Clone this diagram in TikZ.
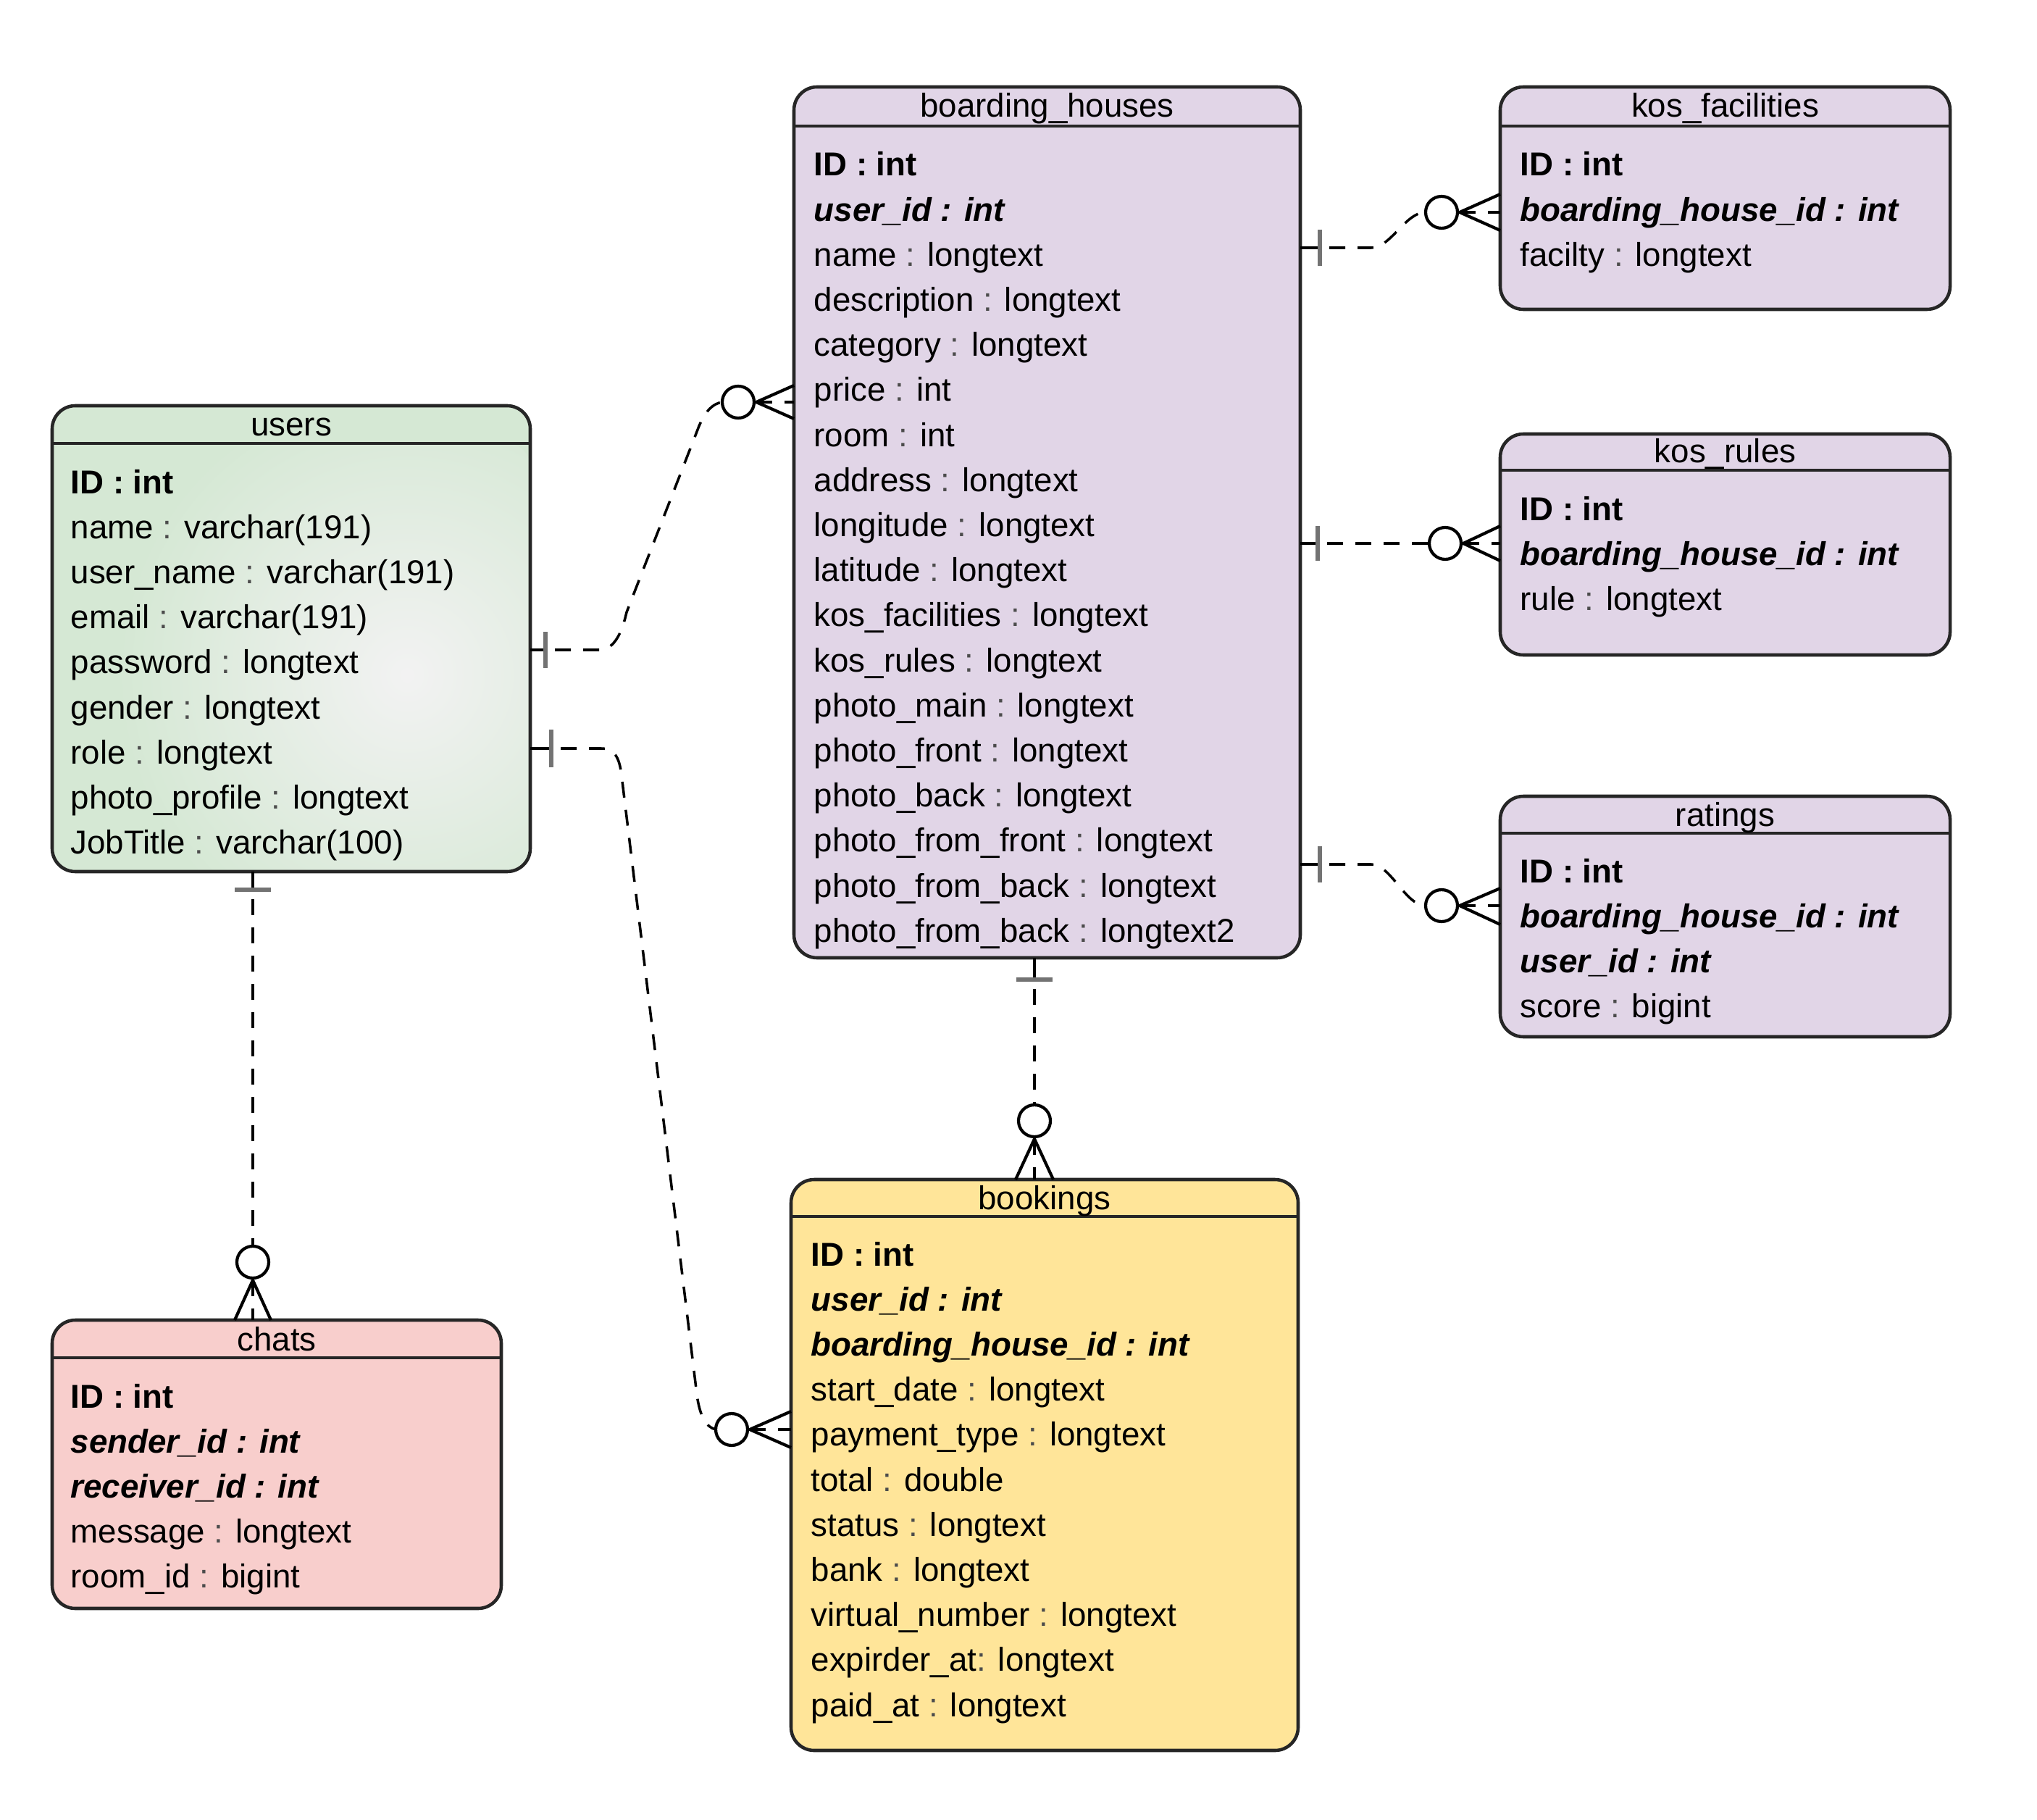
\documentclass[tikz,border=0pt]{standalone}
\usepackage{fontspec}
\setmainfont{Liberation Sans}
\usetikzlibrary{calc}
\definecolor{ugreen}{HTML}{D5E8D4}
\definecolor{bhpurple}{HTML}{E1D5E7}
\definecolor{bkyellow}{HTML}{FFE599}
\definecolor{chpink}{HTML}{F8CECC}
\newcommand{\erfont}{\fontsize{13}{15}\selectfont}
\newcommand{\pk}[1]{\textbf{#1}}
\newcommand{\fk}[1]{\textbf{\textit{#1}}}
\newcommand{\fld}[2]{#1 \textcolor{black!70}{:} #2}
\begin{document}
\begin{tikzpicture}[x=1cm,y=1cm,
  entity/.style={draw=black!85, line width=1.3pt, rounded corners=0.32cm, anchor=north west, inner sep=0pt, outer sep=0pt},
  hdr/.style={draw=black!85, line width=1pt},
  ttl/.style={anchor=base, inner sep=0pt, font=\erfont},
  fld/.style={anchor=base west, inner sep=0pt, font=\erfont},
  rel/.style={line width=1pt, dash pattern=on 0.22cm off 0.17cm},
  relone/.style={rel, dash phase=0.26cm},
  tail/.style={line width=0.9pt},
  onebar/.style={line width=1.6pt, draw=black!55},
  zmany/.style={circle, draw, line width=1.2pt, minimum size=0.44cm, inner sep=0pt, outer sep=0pt, fill=white},
  crow/.style={line width=1.2pt}]
\useasboundingbox (0,0) rectangle (28.12,-25.12);

% users
\node[entity, fill=ugreen, minimum width=6.60cm, minimum height=6.43cm,
  path picture={\clip ([yshift=-0.52cm]path picture bounding box.north west) rectangle (path picture bounding box.south east);
    \shade[inner color=black!5, outer color=ugreen] ([shift={(1.6,-0.5)}]path picture bounding box.center) circle (4cm);}] (users) at (0.72,-5.60) {};
\draw[hdr] ([yshift=-0.52cm]users.north west) -- ([yshift=-0.52cm]users.north east);
\node[ttl] (users-t) at ([yshift=-0.42cm]users.north) {users};
\foreach \f [count=\i from 0] in {\pk{ID : int}, \fld{name}{varchar(191)}, \fld{user\_name}{varchar(191)},
    \fld{email}{varchar(191)}, \fld{password}{longtext}, \fld{gender}{longtext}, \fld{role}{longtext},
    \fld{photo\_profile}{longtext}, \fld{JobTitle}{varchar(100)}}
  \node[fld] (users-\i) at ($(users.north west)+(0.25,-1.21-0.622*\i)$) {\f};

% boarding_houses
\node[entity, fill=bhpurple, minimum width=6.99cm, minimum height=12.02cm] (bh) at (10.96,-1.20) {};
\draw[hdr] ([yshift=-0.54cm]bh.north west) -- ([yshift=-0.54cm]bh.north east);
\node[ttl] (bh-t) at ([yshift=-0.42cm]bh.north) {boarding\_houses};
\foreach \f [count=\i from 0] in {\pk{ID : int}, \fk{user\_id : int}, \fld{name}{longtext},
    \fld{description}{longtext}, \fld{category}{longtext}, \fld{price}{int}, \fld{room}{int},
    \fld{address}{longtext}, \fld{longitude}{longtext}, \fld{latitude}{longtext},
    \fld{kos\_facilities}{longtext}, \fld{kos\_rules}{longtext}, \fld{photo\_main}{longtext},
    \fld{photo\_front}{longtext}, \fld{photo\_back}{longtext}, \fld{photo\_from\_front}{longtext},
    \fld{photo\_from\_back}{longtext}, \fld{photo\_from\_back}{longtext2}}
  \node[fld] (bh-\i) at ($(bh.north west)+(0.27,-1.23-0.622*\i)$) {\f};

% kos_facilities
\node[entity, fill=bhpurple, minimum width=6.21cm, minimum height=3.07cm] (kf) at (20.71,-1.20) {};
\draw[hdr] ([yshift=-0.54cm]kf.north west) -- ([yshift=-0.54cm]kf.north east);
\node[ttl] (kf-t) at ([yshift=-0.42cm]kf.north) {kos\_facilities};
\foreach \f [count=\i from 0] in {\pk{ID : int}, \fk{boarding\_house\_id : int}, \fld{facilty}{longtext}}
  \node[fld] (kf-\i) at ($(kf.north west)+(0.27,-1.23-0.622*\i)$) {\f};

% kos_rules
\node[entity, fill=bhpurple, minimum width=6.21cm, minimum height=3.05cm] (kr) at (20.71,-5.99) {};
\draw[hdr] ([yshift=-0.50cm]kr.north west) -- ([yshift=-0.50cm]kr.north east);
\node[ttl] (kr-t) at ([yshift=-0.40cm]kr.north) {kos\_rules};
\foreach \f [count=\i from 0] in {\pk{ID : int}, \fk{boarding\_house\_id : int}, \fld{rule}{longtext}}
  \node[fld] (kr-\i) at ($(kr.north west)+(0.27,-1.19-0.622*\i)$) {\f};

% ratings
\node[entity, fill=bhpurple, minimum width=6.21cm, minimum height=3.32cm] (rt) at (20.71,-10.99) {};
\draw[hdr] ([yshift=-0.51cm]rt.north west) -- ([yshift=-0.51cm]rt.north east);
\node[ttl] (rt-t) at ([yshift=-0.41cm]rt.north) {ratings};
\foreach \f [count=\i from 0] in {\pk{ID : int}, \fk{boarding\_house\_id : int}, \fk{user\_id : int}, \fld{score}{bigint}}
  \node[fld] (rt-\i) at ($(rt.north west)+(0.27,-1.19-0.622*\i)$) {\f};

% bookings
\node[entity, fill=bkyellow, minimum width=7.00cm, minimum height=7.88cm] (bk) at (10.92,-16.28) {};
\draw[hdr] ([yshift=-0.51cm]bk.north west) -- ([yshift=-0.51cm]bk.north east);
\node[ttl] (bk-t) at ([yshift=-0.41cm]bk.north) {bookings};
\foreach \f [count=\i from 0] in {\pk{ID : int}, \fk{user\_id : int}, \fk{boarding\_house\_id : int},
    \fld{start\_date}{longtext}, \fld{payment\_type}{longtext}, \fld{total}{double}, \fld{status}{longtext},
    \fld{bank}{longtext}, \fld{virtual\_number}{longtext}, expirder\_at\textcolor{black!70}{:} longtext,
    \fld{paid\_at}{longtext}}
  \node[fld] (bk-\i) at ($(bk.north west)+(0.27,-1.19-0.622*\i)$) {\f};

% chats
\node[entity, fill=chpink, minimum width=6.20cm, minimum height=3.98cm] (ch) at (0.72,-18.22) {};
\draw[hdr] ([yshift=-0.52cm]ch.north west) -- ([yshift=-0.52cm]ch.north east);
\node[ttl] (ch-t) at ([yshift=-0.42cm]ch.north) {chats};
\foreach \f [count=\i from 0] in {\pk{ID : int}, \fk{sender\_id : int}, \fk{receiver\_id : int},
    \fld{message}{longtext}, \fld{room\_id}{bigint}}
  \node[fld] (ch-\i) at ($(ch.north west)+(0.25,-1.21-0.622*\i)$) {\f};

% zero-or-many ends
\node[zmany] (bhz) at (10.19,-5.55) {};
\node[zmany] (bkz) at (10.10,-19.73) {};
\node[zmany] (chz) at (3.49,-17.42) {};
\node[zmany] (bkz2) at (14.28,-15.47) {};
\node[zmany] (kfz) at (19.90,-2.93) {};
\node[zmany] (krz) at (19.95,-7.50) {};
\node[zmany] (rtz) at (19.90,-12.50) {};

% one ends
\coordinate (u-bh) at (7.32,-8.97);
\coordinate (u-bk) at (7.32,-10.33);
\coordinate (u-ch) at (3.49,-12.03);
\coordinate (bh-bk) at (14.28,-13.22);
\coordinate (bh-kf) at (17.95,-3.42);
\coordinate (bh-kr) at (17.95,-7.50);
\coordinate (bh-rt) at (17.95,-11.93);

% users -- boarding_houses
\draw[tail] (u-bh) -- ++(0.21,0) coordinate (t1);
\draw[onebar] ([yshift=0.25cm]t1) -- ([yshift=-0.25cm]t1);
\draw[relone] (t1) -- (8.27,-8.97) .. controls (8.45,-8.97) and (8.57,-8.80) .. (8.65,-8.45)
  -- (9.65,-5.88) .. controls (9.75,-5.65) and (9.85,-5.57) .. (bhz.west);
\draw[crow] (10.96,-5.32) -- ([xshift=0.03cm]bhz.east) -- (10.96,-5.78);
\draw[rel] ([xshift=0.03cm]bhz.east) -- (10.96,-5.55);

% users -- bookings
\draw[tail] (u-bk) -- ++(0.29,0) coordinate (t2);
\draw[onebar] ([yshift=0.26cm]t2) -- ([yshift=-0.26cm]t2);
\draw[relone] (t2) -- (8.30,-10.33) .. controls (8.48,-10.33) and (8.55,-10.45) .. (8.58,-10.70)
  -- (9.62,-19.25) .. controls (9.66,-19.55) and (9.75,-19.70) .. (bkz.west);
\draw[crow] (10.92,-19.48) -- ([xshift=0.03cm]bkz.east) -- (10.92,-19.98);
\draw[rel] ([xshift=0.03cm]bkz.east) -- (10.92,-19.73);

% users -- chats
\draw[tail] (u-ch) -- ++(0,-0.25) coordinate (t3);
\draw[onebar] ([xshift=-0.25cm]t3) -- ([xshift=0.25cm]t3);
\draw[relone] (t3) -- (chz.north);
\draw[crow] (3.24,-18.22) -- ([yshift=-0.03cm]chz.south) -- (3.74,-18.22);
\draw[rel] ([yshift=-0.03cm]chz.south) -- (3.49,-18.22);

% boarding_houses -- bookings
\draw[tail] (bh-bk) -- ++(0,-0.30) coordinate (t4);
\draw[onebar] ([xshift=-0.25cm]t4) -- ([xshift=0.25cm]t4);
\draw[relone] (t4) -- (bkz2.north);
\draw[crow] (14.02,-16.28) -- ([yshift=-0.03cm]bkz2.south) -- (14.54,-16.28);
\draw[rel] ([yshift=-0.03cm]bkz2.south) -- (14.28,-16.28);

% boarding_houses -- kos_facilities
\draw[tail] (bh-kf) -- ++(0.27,0) coordinate (t5);
\draw[onebar] ([yshift=0.25cm]t5) -- ([yshift=-0.25cm]t5);
\draw[relone] (t5) -- (18.93,-3.42) .. controls (19.20,-3.42) and (19.40,-2.93) .. (kfz.west);
\draw[crow] (20.71,-2.68) -- ([xshift=0.03cm]kfz.east) -- (20.71,-3.18);
\draw[rel] ([xshift=0.03cm]kfz.east) -- (20.71,-2.93);

% boarding_houses -- kos_rules
\draw[tail] (bh-kr) -- ++(0.24,0) coordinate (t6);
\draw[onebar] ([yshift=0.24cm]t6) -- ([yshift=-0.24cm]t6);
\draw[relone] (t6) -- (krz.west);
\draw[crow] (20.71,-7.26) -- ([xshift=0.03cm]krz.east) -- (20.71,-7.74);
\draw[rel] ([xshift=0.03cm]krz.east) -- (20.71,-7.50);

% boarding_houses -- ratings
\draw[tail] (bh-rt) -- ++(0.27,0) coordinate (t7);
\draw[onebar] ([yshift=0.25cm]t7) -- ([yshift=-0.25cm]t7);
\draw[relone] (t7) -- (18.93,-11.93) .. controls (19.20,-11.93) and (19.40,-12.50) .. (rtz.west);
\draw[crow] (20.71,-12.26) -- ([xshift=0.03cm]rtz.east) -- (20.71,-12.76);
\draw[rel] ([xshift=0.03cm]rtz.east) -- (20.71,-12.50);
\end{tikzpicture}
\end{document}
